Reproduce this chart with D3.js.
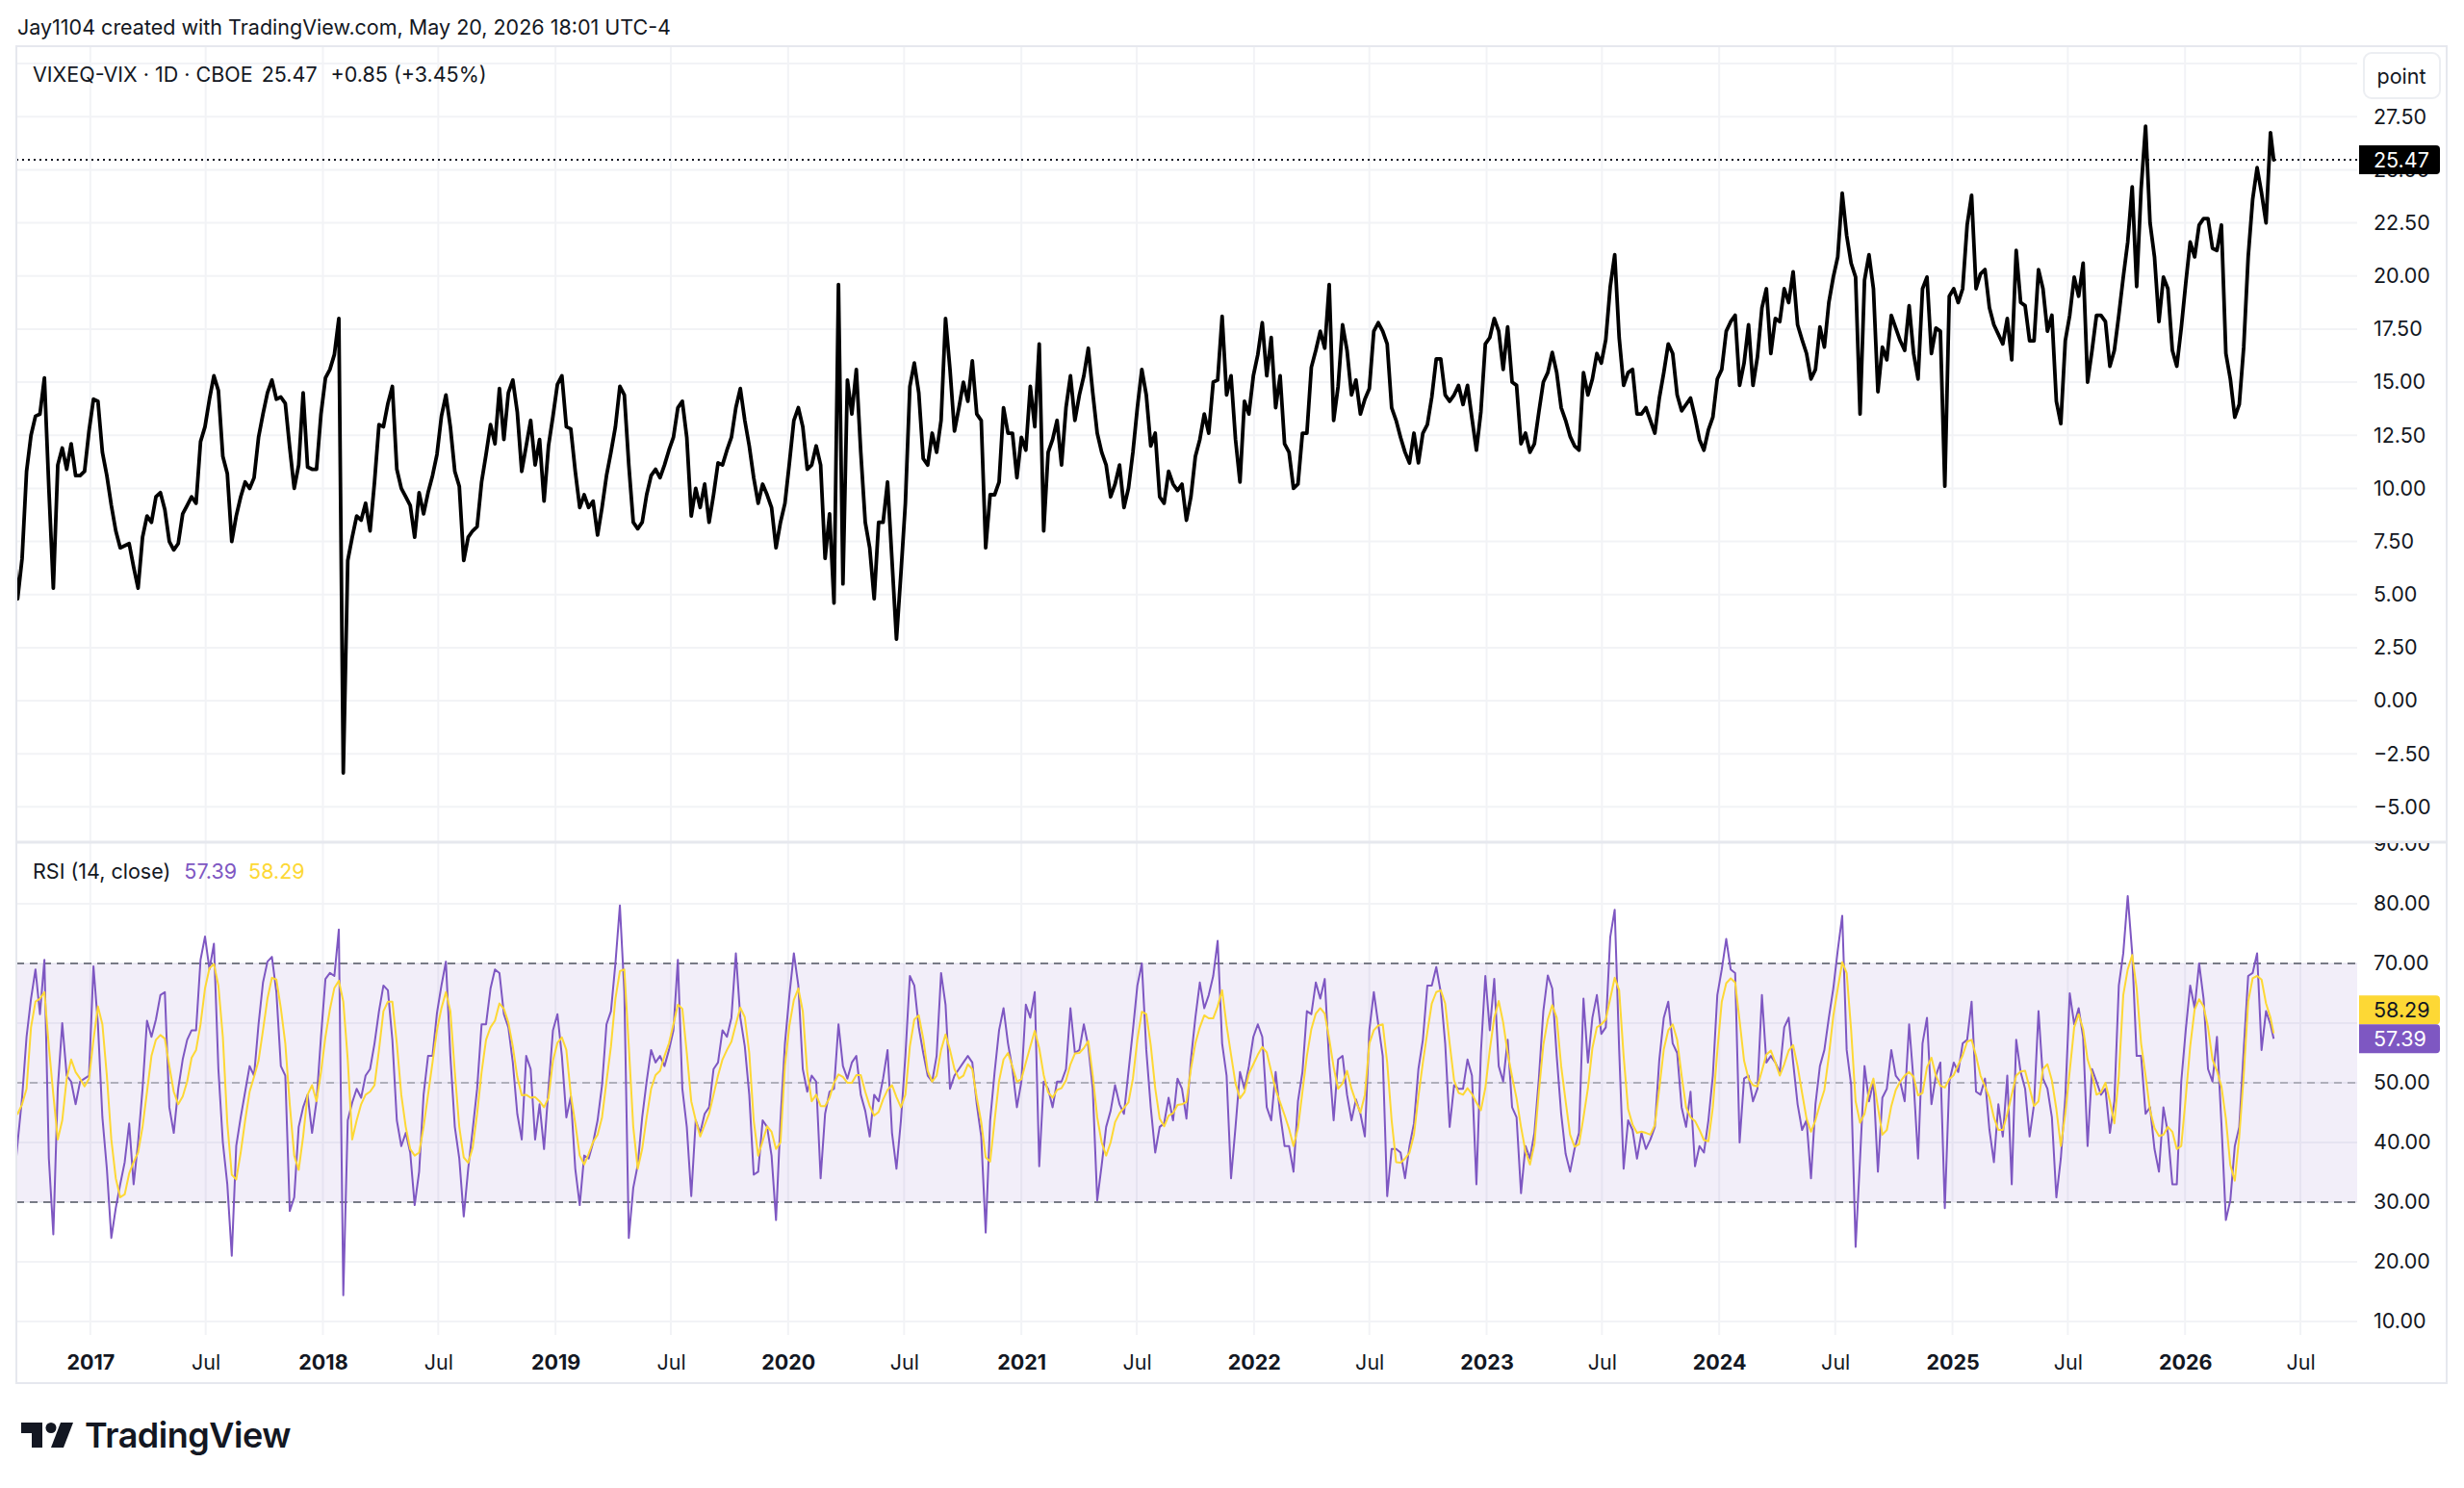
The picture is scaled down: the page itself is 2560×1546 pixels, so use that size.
<!DOCTYPE html>
<html>
<head>
<meta charset="utf-8">
<title>VIXEQ-VIX · 1D · CBOE</title>
<script src="https://cdn.jsdelivr.net/npm/d3@7/dist/d3.min.js"></script>
<style>
  html, body { margin: 0; padding: 0; background: #ffffff; }
  svg { display: block; font-family: Inter, "Noto Sans", Roboto, sans-serif; }
</style>
</head>
<body>
<div id="chart"></div>
<script>
// Weekly closes, first point 2016-09-02, last bar 2026-05-20
const SERIES_START = "2016-09-02";
const SERIES_END = "2026-05-20";

const priceClose = [
  7.8, 4.8, 6.7, 10.8, 12.5, 13.4, 13.5, 15.2, 10.0, 5.3,
  11.1, 11.9, 10.9, 12.1, 10.6, 10.6, 10.8, 12.7, 14.2, 14.1,
  11.7, 10.6, 9.2, 8.0, 7.2, 7.3, 7.4, 6.3, 5.3, 7.7,
  8.7, 8.4, 9.6, 9.8, 9.0, 7.5, 7.1, 7.4, 8.8, 9.2,
  9.6, 9.3, 12.2, 12.9, 14.2, 15.3, 14.6, 11.5, 10.7, 7.5,
  8.7, 9.6, 10.3, 10.0, 10.5, 12.4, 13.5, 14.5, 15.1, 14.2,
  14.3, 14.0, 11.9, 10.0, 11.1, 14.5, 11.0, 10.9, 10.9, 13.5,
  15.2, 15.6, 16.3, 18.0, -3.4, 6.6, 7.7, 8.7, 8.5, 9.3,
  8.0, 10.3, 13.0, 12.9, 14.0, 14.8, 10.9, 10.0, 9.6, 9.2,
  7.7, 9.8, 8.8, 9.8, 10.6, 11.6, 13.4, 14.4, 12.9, 10.8,
  10.1, 6.6, 7.7, 8.0, 8.2, 10.3, 11.6, 13.0, 12.1, 14.7,
  12.3, 14.5, 15.1, 13.6, 10.8, 12.0, 13.2, 11.1, 12.3, 9.4,
  12.0, 13.4, 14.9, 15.3, 12.9, 12.8, 10.8, 9.1, 9.7, 9.1,
  9.4, 7.8, 9.1, 10.6, 11.7, 12.9, 14.8, 14.4, 11.1, 8.4,
  8.1, 8.4, 9.7, 10.6, 10.9, 10.5, 11.1, 11.8, 12.4, 13.8,
  14.1, 12.4, 8.7, 10.0, 9.1, 10.2, 8.4, 9.7, 11.2, 11.1,
  11.8, 12.4, 13.8, 14.7, 13.2, 12.0, 10.5, 9.3, 10.2, 9.7,
  9.1, 7.2, 8.4, 9.3, 11.2, 13.2, 13.8, 12.9, 10.9, 11.1,
  12.0, 11.1, 6.7, 8.8, 4.6, 19.6, 5.5, 15.1, 13.5, 15.6,
  11.7, 8.4, 7.2, 4.8, 8.4, 8.4, 10.3, 6.6, 2.9, 6.0,
  9.3, 14.8, 15.9, 14.5, 11.4, 11.1, 12.6, 11.7, 13.2, 18.0,
  15.6, 12.7, 13.8, 15.0, 14.1, 16.0, 13.5, 13.2, 7.2, 9.7,
  9.7, 10.3, 13.8, 12.6, 12.6, 10.5, 12.4, 11.8, 14.8, 12.9,
  16.8, 8.0, 11.7, 12.3, 13.2, 11.1, 13.8, 15.3, 13.2, 14.4,
  15.3, 16.6, 14.5, 12.6, 11.7, 11.1, 9.6, 10.2, 11.1, 9.1,
  10.0, 11.7, 13.8, 15.6, 14.4, 12.0, 12.6, 9.6, 9.3, 10.8,
  10.2, 9.9, 10.2, 8.5, 9.6, 11.5, 12.3, 13.5, 12.6, 15.0,
  15.1, 18.1, 14.4, 15.3, 12.3, 10.3, 14.1, 13.5, 15.3, 16.3,
  17.8, 15.3, 17.1, 13.8, 15.3, 12.1, 11.7, 10.0, 10.2, 12.6,
  12.6, 15.7, 16.5, 17.4, 16.6, 19.6, 13.2, 14.8, 17.7, 16.5,
  14.4, 15.1, 13.5, 14.2, 14.7, 17.4, 17.8, 17.4, 16.8, 13.8,
  13.2, 12.4, 11.7, 11.2, 12.6, 11.2, 12.6, 13.0, 14.3, 16.1,
  16.1, 14.4, 14.1, 14.4, 14.85, 13.95, 14.85, 13.3, 11.8, 13.6,
  16.8, 17.1, 18.0, 17.4, 15.6, 17.6, 15.0, 14.85, 12.1, 12.6,
  11.7, 12.1, 13.6, 15.0, 15.45, 16.4, 15.45, 13.8, 13.2, 12.45,
  12.0, 11.8, 15.45, 14.4, 15.15, 16.35, 15.9, 17.0, 19.5, 21.0,
  17.1, 14.85, 15.45, 15.6, 13.5, 13.5, 13.8, 13.2, 12.6, 14.25,
  15.45, 16.8, 16.35, 14.4, 13.65, 13.95, 14.25, 13.35, 12.3, 11.8,
  12.75, 13.35, 15.15, 15.6, 17.4, 17.85, 18.15, 14.85, 15.9, 17.7,
  14.85, 16.2, 18.5, 19.4, 16.35, 18.0, 17.85, 19.4, 18.75, 20.2,
  17.7, 17.0, 16.35, 15.15, 15.6, 17.6, 16.65, 18.75, 19.95, 20.9,
  23.9, 21.9, 20.6, 19.95, 13.5, 19.8, 21.0, 19.4, 14.55, 16.65,
  16.05, 18.15, 17.55, 16.95, 16.5, 18.6, 16.35, 15.15, 19.4, 19.95,
  16.35, 17.55, 17.4, 10.1, 19.05, 19.4, 18.75, 19.4, 22.4, 23.8,
  19.4, 20.1, 20.3, 18.5, 17.7, 17.25, 16.8, 18.0, 16.05, 21.2,
  18.75, 18.6, 16.95, 16.95, 20.3, 19.4, 17.4, 18.15, 14.1, 13.05,
  16.95, 18.15, 19.95, 19.05, 20.6, 15.0, 16.5, 18.15, 18.15, 17.85,
  15.75, 16.5, 18.15, 19.95, 21.6, 24.2, 19.5, 24.1, 27.05, 22.5,
  20.9, 17.85, 19.95, 19.4, 16.5, 15.75, 17.55, 19.65, 21.6, 20.9,
  22.4, 22.7, 22.7, 21.3, 21.2, 22.4, 16.35, 15.15, 13.35, 13.95,
  16.65, 20.9, 23.6, 25.1, 23.9, 22.5, 26.75, 25.47
];

const rsiLine = [
  32, 40, 47.5, 57.7, 64.1, 69, 61.5, 70.6, 37.3, 24.6,
  49.1, 60, 51.2, 50.2, 46.4, 50.2, 50.7, 51.2, 69.5, 59.8,
  44.2, 35.6, 24, 29, 33, 36.7, 43.2, 33, 40, 49,
  60.4, 57.7, 60.6, 64.7, 65.2, 45.9, 41.6, 49, 53.9, 57.2,
  58.8, 58.8, 70.6, 74.5, 69, 73.3, 52.3, 40, 33, 21,
  39.4, 44.2, 48.5, 52.8, 51.2, 59.8, 66.8, 70.3, 71.1, 65.2,
  52.8, 51.2, 28.5, 30.8, 42.6, 45.9, 48, 41.6, 46.9, 57.7,
  67.4, 68.4, 67.9, 75.7, 14.4, 43.7, 46.7, 49, 47.5, 51.2,
  52.3, 56.6, 62, 66.3, 65.5, 57.2, 43.7, 39.4, 41.6, 38.3,
  29.5, 35.1, 48, 54.5, 54.5, 61.7, 66.3, 70.3, 54.5, 42.6,
  37.3, 27.6, 35.6, 42.1, 49, 59.8, 59.8, 65.8, 69, 68.4,
  61.5, 59.3, 53.4, 44.8, 40.5, 54.5, 52.3, 40.5, 46.4, 38.9,
  49, 58.8, 61.5, 54.5, 44.2, 47.7, 35.6, 29.5, 37.8, 37.3,
  40, 43.7, 49.6, 59.8, 62, 70, 79.7, 65.2, 24, 32.4,
  36.2, 44.2, 50.2, 55.5, 53.4, 54.5, 52.8, 55.5, 58.8, 70.6,
  49, 42.6, 31, 43.7, 41.6, 44.8, 45.9, 52.3, 53.4, 58.8,
  57.7, 60.9, 71.7, 60.9, 56.1, 48, 34.6, 35.1, 43.7, 42.6,
  37.8, 27, 43.7, 56.6, 64.7, 71.7, 66.3, 52.3, 48.5, 51.2,
  50.2, 34, 44.8, 48.5, 49, 59.8, 52.8, 50.7, 53.4, 54.5,
  48, 45.3, 41, 48, 46.9, 50.7, 55.5, 41.6, 35.6, 43.7,
  54.5, 67.9, 66.3, 59.3, 55, 51.2, 50.2, 54.5, 68.4, 63.1,
  49, 51.2, 52.3, 53.4, 54.5, 53.4, 46.4, 41, 24.9, 43.7,
  51.8, 58.8, 62.5, 56.6, 52.3, 45.9, 50.2, 63.1, 60.9, 65.2,
  36, 50.2, 49, 45.9, 50.2, 50.2, 52.3, 62.5, 55, 55.5,
  59.8, 56.1, 49, 30.3, 36.2, 42.6, 45.3, 49.6, 46.4, 44.8,
  51.8, 58.8, 66.3, 70, 55.5, 45.9, 38.3, 42.6, 43.2, 47.5,
  43.7, 50.7, 49, 44, 53.9, 60.9, 66.8, 62.5, 64.7, 67.9,
  73.8, 56.6, 51.2, 34, 42.6, 51.8, 49, 52.8, 57.7, 59.8,
  57.7, 45.9, 43.7, 51.8, 44.8, 39.4, 39.4, 35.1, 46.9, 51.8,
  62, 61.5, 66.8, 64.1, 67.4, 53.4, 43.7, 53.9, 54.5, 48,
  43.7, 47.2, 44.8, 41, 58.8, 65.2, 59.8, 54.5, 31, 38.9,
  38.9, 38.3, 34, 39.4, 43.2, 52.3, 57.2, 66.3, 66.3, 69.4,
  65.2, 56.6, 42.6, 49.6, 49, 49, 53.9, 51.2, 33, 55,
  67.9, 58.8, 67.4, 52.8, 50.2, 57.2, 45.9, 44.2, 31.5, 39.4,
  37.3, 41.6, 50.7, 62, 68, 65.8, 54.5, 44.8, 38.1, 35.1,
  38.9, 41.6, 64.1, 53.4, 60.9, 64.7, 58.2, 59.3, 74.4, 79,
  55.5, 35.6, 43.7, 42.1, 37.3, 41.6, 38.9, 40.5, 42.6, 53.9,
  60.9, 63.6, 56.6, 55, 45.9, 42.6, 48.5, 36, 39.4, 38.3,
  43.7, 51.2, 64.7, 69, 74.1, 69, 68.4, 40, 50.7, 51.2,
  46.9, 49, 64.7, 53.4, 54.5, 53.4, 51.8, 59.3, 60.9, 53.4,
  46.4, 42.1, 43.7, 34, 46.4, 52.8, 55.5, 60.9, 65.8, 72.2,
  78, 55.5, 49.6, 22.5, 37.3, 52.8, 46.9, 50.2, 35.1, 47.5,
  49, 55.5, 51.2, 50.2, 46.9, 59.8, 50.2, 37.3, 56.6, 60.9,
  46.4, 51.2, 53.4, 29, 50.2, 53.4, 51.8, 56.6, 57.2, 63.6,
  48.5, 48, 50.7, 42.1, 36.7, 46.4, 41, 51.2, 33, 57.2,
  51.8, 49, 41, 46.4, 62, 50.7, 49, 44.2, 30.8, 37.3,
  47.5, 65, 59.8, 62.5, 57.7, 39.4, 52.3, 50.2, 48, 49,
  41.6, 46.9, 66.3, 71.7, 81.3, 71.7, 54.5, 54.5, 44.8, 45.9,
  38.9, 35.1, 45.9, 41.6, 33, 33, 50.2, 58.8, 66.3, 62.5,
  70, 64.1, 52.3, 50.2, 57.7, 43.2, 27, 30.3, 39.4, 42.6,
  55.5, 67.9, 68.4, 71.7, 55.5, 62, 59.8, 57.39
];

const rsiSma = [
  44.2, 44.8, 46.4, 49, 59.3, 63.6, 64.1, 65.2, 56.1, 48,
  40.5, 43.7, 50.7, 53.9, 51.8, 50.7, 49.4, 50.7, 57.2, 62.8,
  59.8, 51.2, 40.5, 34, 30.8, 31.3, 34.8, 36.7, 38.3, 42.6,
  48.5, 54.5, 57.2, 58, 57.4, 52.8, 48.5, 46.4, 47.7, 50.2,
  54.2, 55.5, 59.8, 65.8, 69.2, 69.9, 66.3, 57.7, 43.2, 34.6,
  33.8, 38.3, 43.7, 48.5, 51, 53.7, 58.8, 64.1, 67.6, 67.3,
  62.5, 56.6, 46.4, 37.8, 35.4, 41, 48, 49.6, 46.9, 51.8,
  57.7, 62.3, 65.9, 67.1, 63.6, 53.9, 40.5, 43.7, 46.4, 48,
  48.5, 49.6, 55.5, 62, 63.6, 63.6, 56.6, 48, 42.6, 38.9,
  37.8, 38.3, 42.6, 48, 53.4, 58.8, 62.5, 65.2, 62, 51.8,
  42.6, 37.5, 36.6, 39.1, 44.8, 51.8, 57.2, 59.3, 60.4, 63.3,
  62.4, 60.1, 56.1, 51, 47.9, 48, 47.5, 47.6, 46.9, 45.9,
  47.5, 53.7, 56.7, 57.6, 55.5, 48, 43.2, 37.8, 36.3, 38.1,
  40.1, 41.3, 44.2, 50.2, 56.1, 64.1, 68.7, 69, 56.1, 42.6,
  35.6, 38.9, 44.2, 49, 51.3, 52, 54.5, 56.6, 59.8, 63.1,
  62.4, 55, 46.9, 43.7, 41, 42.9, 44.8, 48, 51.2, 53.9,
  55.5, 56.9, 59.8, 62.6, 61, 55, 43.7, 37.8, 40.2, 42.7,
  41.8, 38.9, 40, 52.8, 59.6, 63.9, 65.8, 62, 51.8, 46.9,
  48, 46.1, 46.1, 47.5, 50, 51.4, 51, 50, 50, 51.3,
  51.3, 48.5, 46.1, 44.5, 45.1, 47.2, 48.8, 49.6, 47.6, 45.9,
  48, 56.1, 60.6, 61.3, 57.4, 52, 50.2, 51.2, 55.5, 58.1,
  55.5, 52.3, 50.7, 51.2, 53.1, 52.3, 47.5, 43.4, 37.5, 36.8,
  43.7, 50.3, 53.9, 55, 52.7, 50.2, 50.6, 53.4, 56.1, 58.7,
  55.8, 51.3, 48.4, 47.5, 48.8, 49.1, 50.4, 53.1, 54.9, 55,
  55.8, 57, 51.2, 44.2, 40, 37.8, 40, 43.4, 44.9, 45.8,
  46.7, 50.7, 57.2, 61.9, 61.5, 56.3, 49.1, 44, 42.7, 44.5,
  44.9, 46.3, 46.4, 46.8, 52.3, 56.6, 59.3, 61.3, 60.8, 60.8,
  62.8, 65.5, 59.6, 54.7, 49.9, 47.4, 48.4, 51.5, 53.1, 54.7,
  56, 55.1, 51.9, 48.9, 46.7, 44.6, 42.3, 39.4, 42.4, 48.5,
  54.5, 59, 61.6, 62.5, 61.6, 57.4, 52.6, 49, 49.9, 52,
  49, 46.8, 45, 48, 56.6, 58.8, 59.6, 59.8, 53.4, 43.7,
  36.7, 36.6, 37.3, 38.3, 41.3, 47.7, 53.4, 58.5, 63.3, 65.2,
  65.5, 63.3, 56.6, 50.4, 48.3, 48, 49.1, 48.1, 46.7, 45.4,
  49.1, 55.5, 60.9, 63.7, 60.1, 55, 51, 47.4, 42.6, 38.5,
  36.3, 39.7, 48.5, 56.3, 60.6, 63, 60.9, 52.8, 46.9, 41.3,
  39.3, 39.7, 44.2, 49.1, 55.8, 59.3, 59.8, 60.6, 64.1, 67.6,
  65.5, 54.5, 45.6, 43, 41.6, 41.8, 41.6, 41.3, 42.9, 49.1,
  55.6, 58.8, 59.8, 57.2, 51.2, 45.9, 44.2, 43.6, 42.1, 40.4,
  40.2, 45.9, 55.3, 63.6, 66.7, 67.5, 66.8, 60.4, 53.7, 50.7,
  49.6, 49.4, 52, 54.7, 55.4, 53.4, 51.2, 53.1, 55.4, 56.3,
  52.8, 48.3, 44, 41.8, 43.7, 46.4, 48.8, 54.5, 61.2, 65.8,
  70.2, 68.4, 58.8, 46.9, 43.3, 44.8, 48.5, 50.7, 45.9, 41.3,
  42.1, 46.1, 48.8, 50.2, 51.2, 51.8, 51, 47.9, 48.3, 52.6,
  54.2, 51.2, 49.5, 49.2, 50.6, 51.3, 53, 54.6, 56.9, 57.2,
  54.5, 51.2, 49.4, 47.5, 44.2, 42.1, 42.1, 44.8, 48, 51.2,
  51.9, 52, 49.1, 46.1, 46.9, 52.3, 53.1, 50.4, 45.6, 39.4,
  44.8, 52, 59.3, 61.5, 59, 53.9, 51.5, 48, 48.4, 50,
  46.9, 43.2, 51.2, 64.7, 69, 71.4, 65.8, 56.6, 51.2, 45.4,
  42.4, 41.1, 41.3, 42.6, 41.8, 38.9, 39.4, 47.5, 56.1, 62.3,
  64, 62.8, 59.3, 53.9, 52, 49.4, 44, 36.2, 33.6, 41,
  51.2, 63.6, 67.5, 67.9, 67.3, 63.3, 60.9, 58.29
];

const priceTicks = [-5, -2.5, 0, 2.5, 5, 7.5, 10, 12.5, 15, 17.5, 20, 22.5, 25, 27.5];
const priceGrid = [-5, -2.5, 0, 2.5, 5, 7.5, 10, 12.5, 15, 17.5, 20, 22.5, 25, 27.5, 30];
const rsiTicks = [10, 20, 30, 40, 50, 60, 70, 80, 90];
const rsiBands = [70, 50, 30];
const timeTicks = [
  "2017-01-01", "2017-07-01", "2018-01-01", "2018-07-01", "2019-01-01", "2019-07-01",
  "2020-01-01", "2020-07-01", "2021-01-01", "2021-07-01", "2022-01-01", "2022-07-01",
  "2023-01-01", "2023-07-01", "2024-01-01", "2024-07-01", "2025-01-01", "2025-07-01",
  "2026-01-01", "2026-07-01"
];

const HEADER_TEXT = "Jay1104 created with TradingView.com, May 20, 2026 18:01 UTC-4";
const SYMBOL_TEXT = "VIXEQ-VIX · 1D · CBOE";
const LAST_PRICE_TEXT = "25.47";
const CHANGE_TEXT = "+0.85 (+3.45%)";
const RSI_TITLE = "RSI (14, close)";

// Layout
const CONFIG = {
  width: 2560,
  height: 1546,
  frame: { left: 17, top: 48, right: 2542, bottom: 1437 },
  plotRight: 2449,
  priceBottom: 875,
  rsiBottom: 1387,
  axisLabelX: 2466,
  priceDomain: [-6.66, 30.82],
  rsiDomain: [7.74, 90.32],
  timeDomain: ["2016-09-07", "2026-09-28"],
  tagHeight: 30,
  colors: {
    text: "#131722",
    grid: "#f2f3f6",
    border: "#e6e8ee",
    price: "#000000",
    rsi: "#7e57c2",
    sma: "#fdd835",
    band: "#787b86",
    bandFill: "rgba(126, 87, 194, 0.1)"
  },
  fontSize: 21.5
};

const parseDate = d3.timeParse("%Y-%m-%d");
const C = CONFIG.colors;

const svg = d3.select("#chart")
  .append("svg")
  .attr("width", CONFIG.width)
  .attr("height", CONFIG.height);

svg.append("rect")
  .attr("width", CONFIG.width)
  .attr("height", CONFIG.height)
  .attr("fill", "#ffffff");

// weekly sample dates, last one is the final bar
function seriesDates(n) {
  const start = parseDate(SERIES_START);
  return d3.range(n).map(i => i === n - 1 ? parseDate(SERIES_END) : d3.timeDay.offset(start, 7 * i));
}

function toPoints(values) {
  const dates = seriesDates(values.length);
  return values.map((v, i) => ({ date: dates[i], value: v }));
}

function createScales() {
  const f = CONFIG.frame;
  const x = d3.scaleTime()
    .domain(CONFIG.timeDomain.map(parseDate))
    .range([f.left, CONFIG.plotRight]);

  const yPrice = d3.scaleLinear()
    .domain(CONFIG.priceDomain)
    .range([CONFIG.priceBottom, f.top]);

  const yRsi = d3.scaleLinear()
    .domain(CONFIG.rsiDomain)
    .range([CONFIG.rsiBottom, CONFIG.priceBottom]);

  return { x, yPrice, yRsi };
}

function addClips() {
  const f = CONFIG.frame;
  const defs = svg.append("defs");
  defs.append("clipPath").attr("id", "clip-price")
    .append("rect")
    .attr("x", f.left).attr("y", f.top)
    .attr("width", CONFIG.plotRight - f.left)
    .attr("height", CONFIG.priceBottom - f.top);
  defs.append("clipPath").attr("id", "clip-rsi")
    .append("rect")
    .attr("x", f.left).attr("y", CONFIG.priceBottom)
    .attr("width", CONFIG.plotRight - f.left)
    .attr("height", CONFIG.rsiBottom - CONFIG.priceBottom);
  defs.append("clipPath").attr("id", "clip-rsi-axis")
    .append("rect")
    .attr("x", CONFIG.plotRight).attr("y", CONFIG.priceBottom + 1)
    .attr("width", f.right - CONFIG.plotRight)
    .attr("height", CONFIG.rsiBottom - CONFIG.priceBottom);
}

// Grid lines
function renderGrid(scales) {
  const f = CONFIG.frame;
  const g = svg.append("g").attr("class", "grid");

  g.selectAll(".v-grid")
    .data(timeTicks.map(parseDate))
    .enter().append("line")
    .attr("x1", d => scales.x(d)).attr("x2", d => scales.x(d))
    .attr("y1", f.top).attr("y2", CONFIG.rsiBottom)
    .attr("stroke", C.grid).attr("stroke-width", 2);

  g.selectAll(".h-grid-price")
    .data(priceGrid)
    .enter().append("line")
    .attr("x1", f.left).attr("x2", CONFIG.plotRight)
    .attr("y1", d => scales.yPrice(d)).attr("y2", d => scales.yPrice(d))
    .attr("stroke", C.grid).attr("stroke-width", 2);

  g.selectAll(".h-grid-rsi")
    .data(rsiTicks.filter(d => d < 90))
    .enter().append("line")
    .attr("x1", f.left).attr("x2", CONFIG.plotRight)
    .attr("y1", d => scales.yRsi(d)).attr("y2", d => scales.yRsi(d))
    .attr("stroke", C.grid).attr("stroke-width", 2);
}

// Price pane
function renderPricePane(scales) {
  const pts = toPoints(priceClose);
  const last = pts[pts.length - 1];

  const line = d3.line()
    .x(d => scales.x(d.date))
    .y(d => scales.yPrice(d.value));

  const g = svg.append("g").attr("clip-path", "url(#clip-price)");

  g.append("line")
    .attr("x1", CONFIG.frame.left).attr("x2", CONFIG.plotRight)
    .attr("y1", scales.yPrice(last.value)).attr("y2", scales.yPrice(last.value))
    .attr("stroke", "#131722")
    .attr("stroke-width", 2)
    .attr("stroke-dasharray", "2,4");

  g.append("path")
    .datum(pts)
    .attr("d", line)
    .attr("fill", "none")
    .attr("stroke", C.price)
    .attr("stroke-width", 3.8)
    .attr("stroke-linejoin", "round")
    .attr("stroke-linecap", "round");
}

// RSI pane
function renderRsiPane(scales) {
  const f = CONFIG.frame;
  const g = svg.append("g").attr("clip-path", "url(#clip-rsi)");

  g.append("rect")
    .attr("x", f.left)
    .attr("y", scales.yRsi(70))
    .attr("width", CONFIG.plotRight - f.left)
    .attr("height", scales.yRsi(30) - scales.yRsi(70))
    .attr("fill", C.bandFill);

  g.selectAll(".band")
    .data(rsiBands)
    .enter().append("line")
    .attr("x1", f.left).attr("x2", CONFIG.plotRight)
    .attr("y1", d => scales.yRsi(d)).attr("y2", d => scales.yRsi(d))
    .attr("stroke", C.band)
    .attr("stroke-opacity", d => d === 50 ? 0.5 : 1)
    .attr("stroke-width", 2)
    .attr("stroke-dasharray", "8,6");

  const line = d3.line()
    .x(d => scales.x(d.date))
    .y(d => scales.yRsi(d.value));

  g.append("path")
    .datum(toPoints(rsiLine))
    .attr("d", line)
    .attr("fill", "none")
    .attr("stroke", C.rsi)
    .attr("stroke-width", 2)
    .attr("stroke-linejoin", "round");

  g.append("path")
    .datum(toPoints(rsiSma))
    .attr("d", line)
    .attr("fill", "none")
    .attr("stroke", C.sma)
    .attr("stroke-width", 2)
    .attr("stroke-linejoin", "round");
}

// Frame and pane separator
function renderFrame() {
  const f = CONFIG.frame;
  svg.append("rect")
    .attr("x", f.left).attr("y", f.top)
    .attr("width", f.right - f.left)
    .attr("height", f.bottom - f.top)
    .attr("fill", "none")
    .attr("stroke", C.border)
    .attr("stroke-width", 2);

  svg.append("line")
    .attr("x1", f.left).attr("x2", f.right)
    .attr("y1", CONFIG.priceBottom).attr("y2", CONFIG.priceBottom)
    .attr("stroke", C.border)
    .attr("stroke-width", 3);
}

function styleAxisText(sel) {
  sel.select(".domain").remove();
  sel.selectAll(".tick line").remove();
  sel.selectAll("text")
    .attr("fill", C.text)
    .style("font-size", CONFIG.fontSize + "px")
    .style("font-family", "Inter, 'Noto Sans', Roboto, sans-serif");
}

function fmtAxis(v) {
  const s = Math.abs(v).toFixed(2);
  return v < 0 ? "\u2212" + s : s;
}

// tag centre positions on the right scale, RSI tags stack rather than overlap
function tagPositions(scales) {
  const yPriceTag = scales.yPrice(priceClose[priceClose.length - 1]);
  const yRsiTag = scales.yRsi(rsiLine[rsiLine.length - 1]);
  const ySmaTag = Math.min(scales.yRsi(rsiSma[rsiSma.length - 1]), yRsiTag - CONFIG.tagHeight);
  return { yPriceTag, yRsiTag, ySmaTag };
}

// Axes
function renderAxes(scales) {
  const tags = tagPositions(scales);
  const h = CONFIG.tagHeight;

  const priceAxis = svg.append("g")
    .attr("transform", `translate(${CONFIG.axisLabelX},0)`)
    .call(d3.axisRight(scales.yPrice)
      .tickValues(priceTicks)
      .tickSize(0)
      .tickPadding(0)
      .tickFormat(fmtAxis));
  styleAxisText(priceAxis);

  // labels fully covered by the RSI value tags are not drawn, as on the original
  const rsiVisible = rsiTicks.filter(v => {
    const y = scales.yRsi(v);
    return !(y > tags.ySmaTag - h / 2 && y < tags.yRsiTag + h / 2);
  });

  const rsiAxis = svg.append("g")
    .attr("clip-path", "url(#clip-rsi-axis)")
    .append("g")
    .attr("transform", `translate(${CONFIG.axisLabelX},0)`)
    .call(d3.axisRight(scales.yRsi)
      .tickValues(rsiVisible)
      .tickSize(0)
      .tickPadding(0)
      .tickFormat(d => d.toFixed(2)));
  styleAxisText(rsiAxis);

  const timeAxis = svg.append("g")
    .attr("transform", "translate(0,1415)")
    .call(d3.axisBottom(scales.x)
      .tickValues(timeTicks.map(parseDate))
      .tickSize(0)
      .tickFormat(d => d.getMonth() === 0 ? d3.timeFormat("%Y")(d) : "Jul"));
  styleAxisText(timeAxis);
  timeAxis.selectAll("text")
    .attr("y", 0)
    .attr("dy", "0.36em")
    .style("font-weight", d => d.getMonth() === 0 ? 700 : 400);

  // unit button
  svg.append("rect")
    .attr("x", 2456).attr("y", 55)
    .attr("width", 79).attr("height", 47)
    .attr("rx", 8)
    .attr("fill", "#ffffff")
    .attr("stroke", "#eceef2")
    .attr("stroke-width", 2);
  svg.append("text")
    .attr("x", 2495).attr("y", 79)
    .attr("dy", "0.36em")
    .attr("text-anchor", "middle")
    .attr("fill", C.text)
    .style("font-size", CONFIG.fontSize + "px")
    .text("point");
}

function valueTag(y, bg, fg, label) {
  const g = svg.append("g");
  const h = CONFIG.tagHeight / 2;
  g.append("path")
    .attr("d", `M2451,${y - h} H2531 Q2535,${y - h} 2535,${y - h + 4} V${y + h - 4} Q2535,${y + h} 2531,${y + h} H2451 Z`)
    .attr("fill", bg);
  g.append("text")
    .attr("x", CONFIG.axisLabelX).attr("y", y)
    .attr("dy", "0.36em")
    .attr("fill", fg)
    .style("font-size", CONFIG.fontSize + "px")
    .text(label);
}

// Last value tags
function renderTags(scales) {
  const tags = tagPositions(scales);
  valueTag(tags.yPriceTag, "#000000", "#ffffff", priceClose[priceClose.length - 1].toFixed(2));
  valueTag(tags.ySmaTag, C.sma, "#131722", rsiSma[rsiSma.length - 1].toFixed(2));
  valueTag(tags.yRsiTag, C.rsi, "#ffffff", rsiLine[rsiLine.length - 1].toFixed(2));
}

// Header and legends
function renderLegends() {
  svg.append("text")
    .attr("x", 18).attr("y", 36)
    .attr("fill", C.text)
    .style("font-size", CONFIG.fontSize + "px")
    .text(HEADER_TEXT);

  const sym = svg.append("text")
    .attr("x", 34).attr("y", 77)
    .attr("dy", "0.36em")
    .attr("fill", C.text)
    .style("font-size", CONFIG.fontSize + "px");
  sym.append("tspan").text(SYMBOL_TEXT);
  sym.append("tspan").attr("dx", 9).text(LAST_PRICE_TEXT);
  sym.append("tspan").attr("dx", 14).text(CHANGE_TEXT);

  const rsi = svg.append("text")
    .attr("x", 34).attr("y", 905)
    .attr("dy", "0.36em")
    .attr("fill", C.text)
    .style("font-size", CONFIG.fontSize + "px");
  rsi.append("tspan").text(RSI_TITLE);
  rsi.append("tspan").attr("dx", 14).attr("fill", C.rsi).text(rsiLine[rsiLine.length - 1].toFixed(2));
  rsi.append("tspan").attr("dx", 12).attr("fill", C.sma).text(rsiSma[rsiSma.length - 1].toFixed(2));
}

// TradingView mark
function renderLogo() {
  const g = svg.append("g").attr("fill", "#131722");
  g.append("path").attr("d", "M22,1478 H44 V1504 H33 V1489 H22 Z");
  g.append("circle").attr("cx", 53).attr("cy", 1483.5).attr("r", 5.5);
  g.append("path").attr("d", "M63,1478 H76 L66,1504 H53 Z");
  g.append("text")
    .attr("x", 88).attr("y", 1504)
    .style("font-size", "36px")
    .style("font-weight", 600)
    .style("letter-spacing", "-0.5px")
    .text("TradingView");
}

function draw() {
  const scales = createScales();
  addClips();
  renderGrid(scales);
  renderRsiPane(scales);
  renderPricePane(scales);
  renderFrame();
  renderAxes(scales);
  renderTags(scales);
  renderLegends();
  renderLogo();
}

draw();
</script>
</body>
</html>
